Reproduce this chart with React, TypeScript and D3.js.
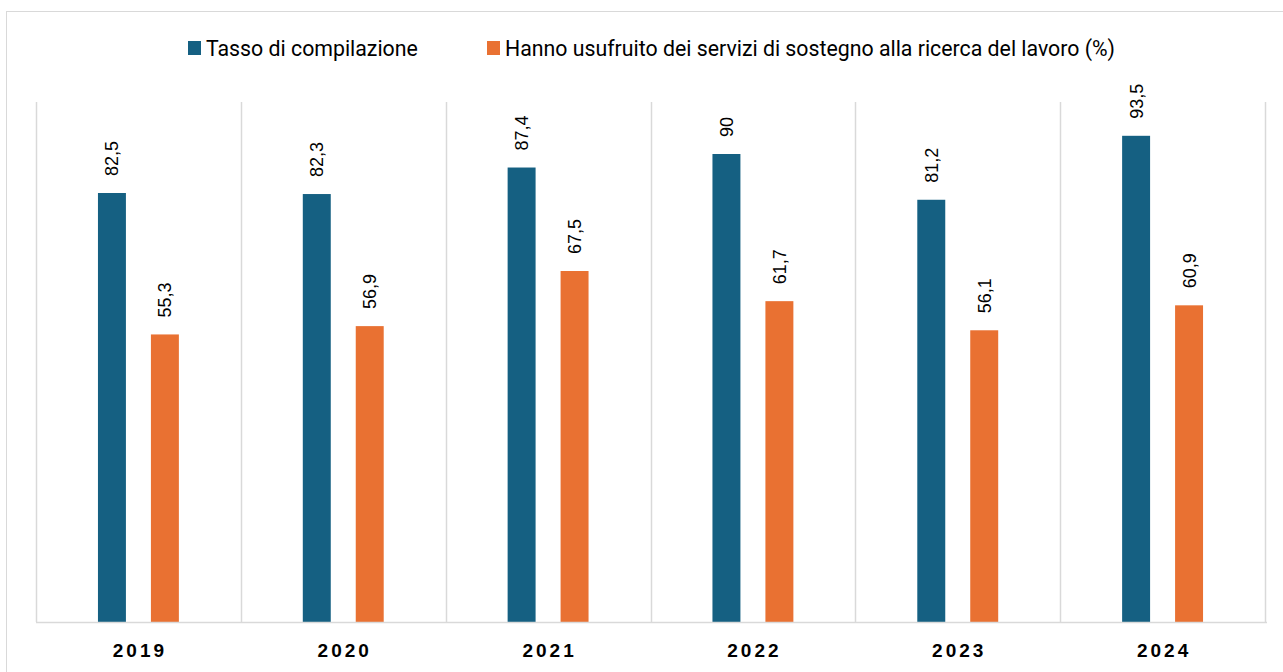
import { useEffect, useRef } from "react";
import * as d3 from "d3";

const years = ["2019", "2020", "2021", "2022", "2023", "2024"];
const seriesNames = [
  "Tasso di compilazione",
  "Hanno usufruito dei servizi di sostegno alla ricerca del lavoro (%)",
];
const compilazione = [82.5, 82.3, 87.4, 90, 81.2, 93.5];
const sostegno = [55.3, 56.9, 67.5, 61.7, 56.1, 60.9];
const colors = ["#156082", "#E97132"];

const W = 1283;
const H = 672;

const App = () => {
  const svgRef = useRef<SVGSVGElement | null>(null);

  useEffect(() => {
    const svg = d3.select(svgRef.current);
    svg.selectAll("*").remove();

    const left = 36;
    const right = 1265;
    const top = 102;
    const bottom = 622;

    const x0 = d3.scaleBand<string>().domain(years).range([left, right]);
    const x1 = d3
      .scaleBand<number>()
      .domain([0, 1])
      .range([0, x0.bandwidth()])
      .paddingInner(0.472)
      .paddingOuter(1.17);
    const y = d3.scaleLinear().domain([0, 100]).range([bottom, top]);

    // outer frame
    svg
      .append("rect")
      .attr("x", 6.5)
      .attr("y", 11.5)
      .attr("width", W)
      .attr("height", H)
      .attr("fill", "none")
      .attr("stroke", "#d9d9d9");

    // vertical grid at category boundaries
    const bounds = years.map((d) => x0(d)!).concat([right]);
    svg
      .append("g")
      .selectAll("line")
      .data(bounds)
      .join("line")
      .attr("x1", (d) => Math.round(d) + 0.5)
      .attr("x2", (d) => Math.round(d) + 0.5)
      .attr("y1", top)
      .attr("y2", bottom)
      .attr("stroke", "#d9d9d9")
      .attr("stroke-width", 1.5);

    const rows = [compilazione, sostegno];
    const g = svg.append("g");
    rows.forEach((vals, si) => {
      g.append("g")
        .selectAll("rect")
        .data(vals)
        .join("rect")
        .attr("x", (_, i) => x0(years[i])! + x1(si)!)
        .attr("y", (d) => y(d))
        .attr("width", x1.bandwidth())
        .attr("height", (d) => y(0) - y(d))
        .attr("fill", colors[si]);

      g.append("g")
        .selectAll("text")
        .data(vals)
        .join("text")
        .attr("transform", (d, i) => {
          const cx = x0(years[i])! + x1(si)! + x1.bandwidth() / 2;
          return `translate(${cx + 6.5},${y(d) - 17}) rotate(-90)`;
        })
        .attr("font-family", "'Liberation Sans', Arial, sans-serif")
        .attr("font-size", 18)
        .attr("fill", "#000")
        .text((d) => String(d).replace(".", ","));
    });

    // x axis
    svg
      .append("line")
      .attr("x1", left)
      .attr("x2", right + 2)
      .attr("y1", bottom + 0.5)
      .attr("y2", bottom + 0.5)
      .attr("stroke", "#d9d9d9")
      .attr("stroke-width", 1.5);

    svg
      .append("g")
      .selectAll("text")
      .data(years)
      .join("text")
      .attr("x", (d) => x0(d)! + x0.bandwidth() / 2 + 1.5)
      .attr("y", 657)
      .attr("text-anchor", "middle")
      .attr("font-family", "'Liberation Sans', Arial, sans-serif")
      .attr("font-weight", "bold")
      .attr("font-size", 19)
      .attr("letter-spacing", 3)
      .attr("fill", "#000")
      .text((d) => d);

    // legend
    const legX = [188, 487];
    const leg = svg.append("g");
    seriesNames.forEach((name, i) => {
      leg
        .append("rect")
        .attr("x", legX[i])
        .attr("y", 41)
        .attr("width", 13)
        .attr("height", 14)
        .attr("fill", colors[i]);
      leg
        .append("text")
        .attr("x", legX[i] + 18)
        .attr("y", 56)
        .attr("font-family", "'Liberation Sans Narrow', 'Arial Narrow', Roboto, sans-serif")
        .attr("font-size", 21.3)
        .attr("fill", "#000")
        .text(name);
    });
  }, []);

  return (
    <div style={{ position: "absolute", left: 0, top: 0, width: W, height: H, background: "#fff" }}>
      <svg ref={svgRef} width={W} height={H} style={{ display: "block" }}></svg>
    </div>
  );
};

export default App;
